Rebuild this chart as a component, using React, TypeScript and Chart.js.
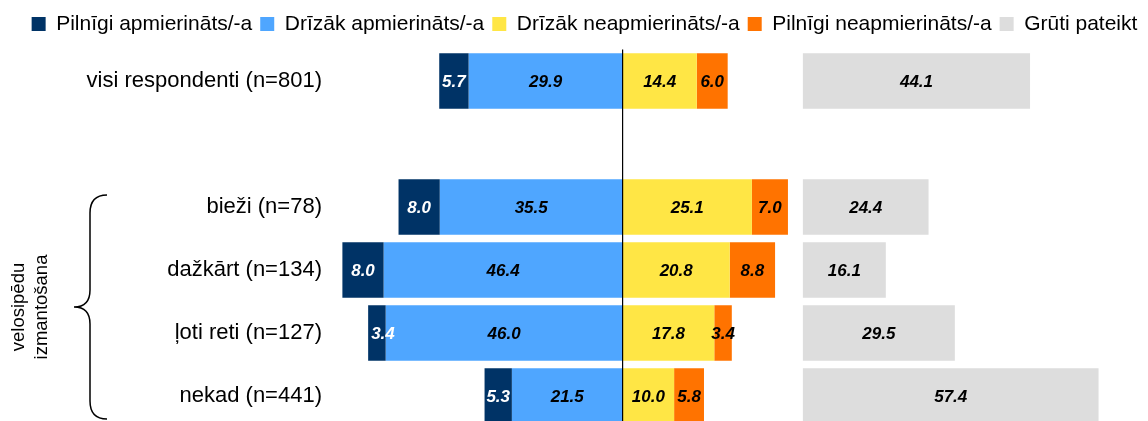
import React, { useEffect, useRef } from 'react';
import { Chart, registerables } from 'chart.js';

Chart.register(...registerables);

const categories = [
  'visi respondenti (n=801)',
  '',
  'bieži (n=78)',
  'dažkārt (n=134)',
  'ļoti reti (n=127)',
  'nekad (n=441)',
];
const fullySatisfied = [5.7, null, 8.0, 8.0, 3.4, 5.3];
const ratherSatisfied = [29.9, null, 35.5, 46.4, 46.0, 21.5];
const ratherDissatisfied = [14.4, null, 25.1, 20.8, 17.8, 10.0];
const fullyDissatisfied = [6.0, null, 7.0, 8.8, 3.4, 5.8];
const hardToSay = [44.1, null, 24.4, 16.1, 29.5, 57.4];
const seriesNames = [
  'Pilnīgi apmierināts/-a',
  'Drīzāk apmierināts/-a',
  'Drīzāk neapmierināts/-a',
  'Pilnīgi neapmierināts/-a',
  'Grūti pateikt',
];
const groupLabel = ['velosipēdu', 'izmantošana'];

const X_MIN = -57;
const X_MAX = 102;
const GREY_START = 35;

const FONT = '"Liberation Sans", Arial, sans-serif';

type V = number | null;

const dark = fullySatisfied.map((v: V, i) =>
  v == null ? null : [-(v + (ratherSatisfied[i] as number)), -(ratherSatisfied[i] as number)]
);
const light = ratherSatisfied.map((v: V) => (v == null ? null : [-v, 0]));
const yellow = ratherDissatisfied.map((v: V) => (v == null ? null : [0, v]));
const orange = fullyDissatisfied.map((v: V, i) =>
  v == null ? null : [ratherDissatisfied[i] as number, (ratherDissatisfied[i] as number) + v]
);
const grey = hardToSay.map((v: V) => (v == null ? null : [GREY_START, GREY_START + v]));

const labelPlugin = {
  id: 'segLabels',
  afterDatasetsDraw(chart: any) {
    const ctx = chart.ctx;
    ctx.save();
    ctx.font = `italic bold 17px ${FONT}`;
    ctx.textAlign = 'center';
    ctx.textBaseline = 'middle';
    chart.data.datasets.forEach((ds: any, di: number) => {
      const meta = chart.getDatasetMeta(di);
      meta.data.forEach((el: any, i: number) => {
        const v = ds.rawValues[i];
        if (v == null) return;
        const c = el.getCenterPoint();
        const txt = v.toFixed(1);
        const tw = ctx.measureText(txt).width;
        const left = Math.min(el.x, el.base);
        const segW = Math.abs(el.x - el.base);
        let x = c.x;
        if (di === 0 && tw > segW) x = left + 3 + tw / 2;
        ctx.fillStyle = ds.labelColor;
        ctx.fillText(txt, x, c.y + 1);
      });
    });
    // centre line
    const x0 = chart.scales.x.getPixelForValue(0);
    ctx.strokeStyle = '#000';
    ctx.lineWidth = 1.2;
    ctx.beginPath();
    ctx.moveTo(x0, chart.chartArea.top);
    ctx.lineTo(x0, chart.chartArea.bottom);
    ctx.stroke();
    ctx.restore();
  },
  afterDraw(chart: any) {
    const ctx = chart.ctx;
    const y = chart.scales.y;
    const top = y.getPixelForValue(2) - 12;
    const bottom = y.getPixelForValue(5) + 23;
    const mid = (top + bottom) / 2;
    const xr = 107;
    const xl = 90;
    const xt = 74;
    ctx.save();
    ctx.strokeStyle = '#000';
    ctx.lineWidth = 1.5;
    ctx.beginPath();
    ctx.moveTo(xr, top);
    ctx.quadraticCurveTo(xl, top, xl, top + 18);
    ctx.lineTo(xl, mid - 17);
    ctx.quadraticCurveTo(xl, mid, xt, mid);
    ctx.quadraticCurveTo(xl, mid, xl, mid + 17);
    ctx.lineTo(xl, bottom - 18);
    ctx.quadraticCurveTo(xl, bottom, xr, bottom);
    ctx.stroke();

    ctx.fillStyle = '#000';
    ctx.font = `18.5px ${FONT}`;
    ctx.textAlign = 'center';
    ctx.textBaseline = 'middle';
    ctx.translate(0, mid);
    ctx.rotate(-Math.PI / 2);
    ctx.fillText(groupLabel[0], 0, 19);
    ctx.fillText(groupLabel[1], 0, 42);
    ctx.restore();
  },
};

export default function App() {
  const ref = useRef<HTMLCanvasElement | null>(null);

  useEffect(() => {
    document.body.style.margin = '0';
    if (!ref.current) return;
    const mk = (label: string, data: any, raw: V[], color: string, labelColor: string) => ({
      label,
      data,
      rawValues: raw,
      backgroundColor: color,
      borderWidth: 0,
      grouped: false,
      barPercentage: 0.88,
      categoryPercentage: 1,
      labelColor,
    });
    const chart = new Chart(ref.current, {
      type: 'bar',
      data: {
        labels: categories,
        datasets: [
          mk(seriesNames[0], dark, fullySatisfied, '#003366', '#ffffff'),
          mk(seriesNames[1], light, ratherSatisfied, '#4fa6ff', '#000000'),
          mk(seriesNames[2], yellow, ratherDissatisfied, '#ffe645', '#000000'),
          mk(seriesNames[3], orange, fullyDissatisfied, '#ff7300', '#000000'),
          mk(seriesNames[4], grey, hardToSay, '#dddddd', '#000000'),
        ] as any,
      },
      options: {
        indexAxis: 'y',
        animation: false,
        responsive: false,
        maintainAspectRatio: false,
        devicePixelRatio: 1,
        layout: { padding: { left: 21, right: 0, top: 5.5, bottom: 2.5 } },
        scales: {
          x: {
            type: 'linear',
            position: 'top',
            min: X_MIN,
            max: X_MAX,
            display: true,
            grid: { display: false, drawTicks: false },
            border: { display: false },
            ticks: { display: false },
            afterFit(scale: any) {
              scale.height = 5;
              scale.paddingLeft = 0;
              scale.paddingRight = 0;
            },
          },
          y: {
            type: 'category',
            grid: { display: false, drawTicks: false },
            border: { display: false },
            ticks: {
              color: '#000',
              padding: 7,
              font: { family: FONT, size: 22 },
            },
            afterFit(scale: any) {
              scale.width = 308;
              scale.paddingTop = 0;
              scale.paddingBottom = 0;
            },
          },
        },
        plugins: {
          legend: {
            position: 'top',
            labels: {
              boxWidth: 14,
              boxHeight: 14,
              padding: 8,
              color: '#000',
              font: { family: FONT, size: 21 },
            },
          },
          tooltip: { enabled: false },
        },
      } as any,
      plugins: [labelPlugin],
    });
    return () => chart.destroy();
  }, []);

  return (
    <div style={{ width: 1148, height: 421, overflow: 'hidden', position: 'relative' }}>
      <canvas ref={ref} width={1148} height={430} />
    </div>
  );
}
